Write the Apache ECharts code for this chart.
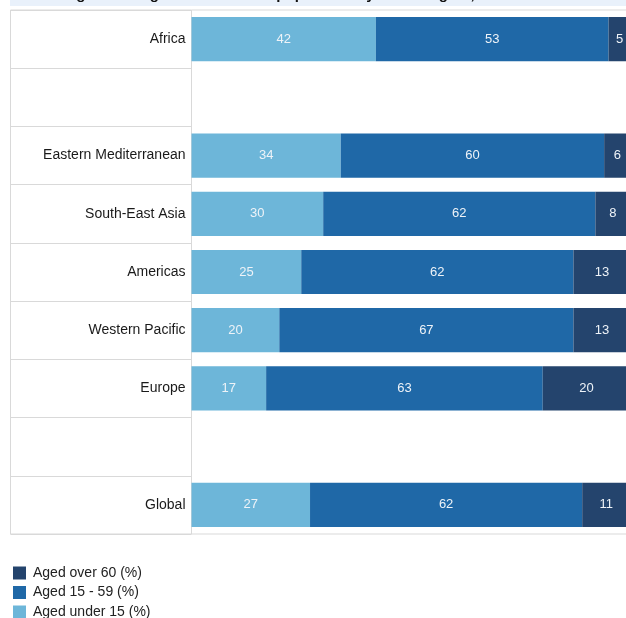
<!DOCTYPE html>
<html>
<head>
<meta charset="utf-8">
<script src="https://cdn.jsdelivr.net/npm/echarts@6/dist/echarts.min.js"></script>
<style>
  html, body { margin: 0; padding: 0; background: #fff; }
  #chart { width: 626px; height: 618px; }
</style>
</head>
<body>
<div id="chart"></div>
<script>
// WHO regions (blank entries leave empty spacer rows)
const regions = ['Africa', '', 'Eastern Mediterranean', 'South-East Asia', 'Americas', 'Western Pacific', 'Europe', '', 'Global'];
const agedUnder15 = [42, null, 34, 30, 25, 20, 17, null, 27];
const aged15to59 = [53, null, 60, 62, 62, 67, 63, null, 62];
const agedOver60 = [5, null, 6, 8, 13, 13, 20, null, 11];
const seriesNames = ['Aged under 15 (%)', 'Aged 15 - 59 (%)', 'Aged over 60 (%)'];
const titleText = 'Figure 3-1 Age distribution of population by WHO Region, 2010';

const colors = ['#6db6d9', '#1f68a7', '#24446d'];
const lineColor = '#d9d9d9';
const font = 'Liberation Sans, Arial, sans-serif';

const chart = echarts.init(document.getElementById('chart'), null, { renderer: 'canvas' });

function barSeries(name, data, idx) {
  return {
    name: name,
    type: 'bar',
    stack: 'total',
    xAxisIndex: 0,
    yAxisIndex: 0,
    barCategoryGap: '24%',
    data: data,
    itemStyle: { color: colors[idx] },
    label: {
      show: true,
      position: 'inside',
      color: '#eef3f8',
      fontFamily: font,
      fontSize: 13,
      formatter: p => (p.value == null ? '' : p.value)
    },
    emphasis: { disabled: true },
    silent: true
  };
}

chart.setOption({
  animation: false,
  textStyle: { fontFamily: font },
  title: {
    text: titleText,
    left: 63,
    top: -13,
    padding: 0,
    textStyle: { fontSize: 15, fontWeight: 'bold', color: '#111', fontFamily: font }
  },
  graphic: [{
    type: 'rect',
    z: -1,
    shape: { x: 10, y: 0, width: 616, height: 6 },
    style: { fill: '#e9f1fb' }
  }],
  legend: {
    orient: 'vertical',
    left: 8,
    top: 561,
    height: 60,
    itemWidth: 13,
    itemHeight: 13,
    itemGap: 5.5,
    icon: 'rect',
    data: [seriesNames[2], seriesNames[1], seriesNames[0]],
    textStyle: { fontSize: 14, color: '#222', fontFamily: font, padding: [0, 0, 0, 2] },
    selectedMode: false
  },
  grid: [
    { left: 191.5, width: 439, top: 10, height: 524, show: true, borderColor: lineColor, borderWidth: 1, containLabel: false, outerBoundsMode: 'none' },
    { left: 10.5, width: 181, top: 10, height: 524, show: true, borderColor: lineColor, borderWidth: 1, containLabel: false, outerBoundsMode: 'none' }
  ],
  xAxis: [
    { gridIndex: 0, type: 'value', min: 0, max: 100, show: false },
    { gridIndex: 1, type: 'value', min: 0, max: 1, show: false }
  ],
  yAxis: [
    {
      gridIndex: 0,
      type: 'category',
      inverse: true,
      data: regions,
      axisLine: { show: false },
      axisTick: { show: false },
      splitLine: { show: false },
      axisLabel: { color: '#1a1a1a', fontSize: 14, fontFamily: font, margin: 6, padding: [0, 0, 5, 0] }
    },
    {
      gridIndex: 1,
      type: 'category',
      inverse: true,
      data: regions,
      axisLine: { show: false },
      axisTick: { show: false },
      axisLabel: { show: false },
      splitLine: { show: true, lineStyle: { color: lineColor, width: 1 } }
    }
  ],
  series: [
    barSeries(seriesNames[0], agedUnder15, 0),
    barSeries(seriesNames[1], aged15to59, 1),
    barSeries(seriesNames[2], agedOver60, 2)
  ]
});
</script>
</body>
</html>
